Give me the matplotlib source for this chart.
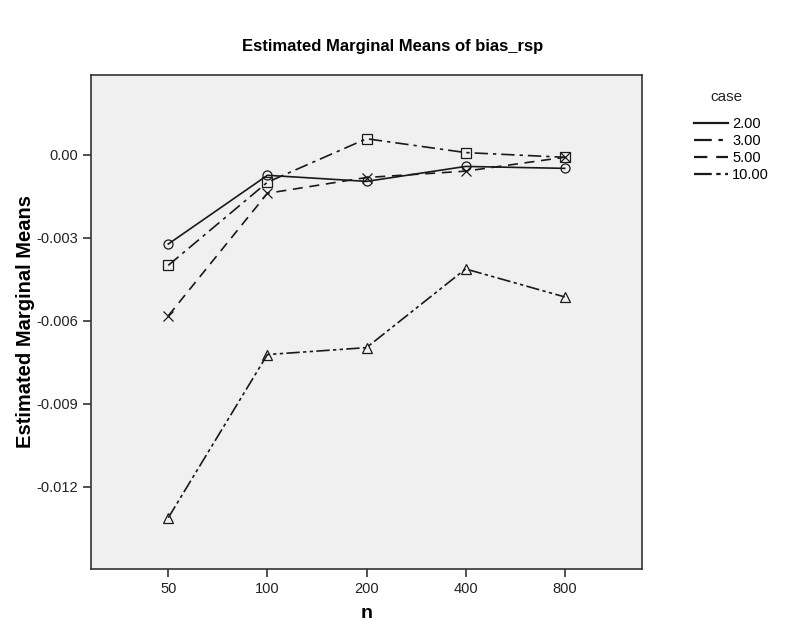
import numpy as np
import matplotlib
matplotlib.use("Agg")
import matplotlib.pyplot as plt

plt.rcParams['font.family'] = ['Liberation Sans', 'DejaVu Sans']

# estimated marginal means of bias_rsp by n and case
n_labels = ["50", "100", "200", "400", "800"]
case_labels = ["2.00", "3.00", "5.00", "10.00"]
case_2 = [-0.00323, -0.00075, -0.00097, -0.00043, -0.00050]
case_3 = [-0.00400, -0.00100, 0.00057, 0.00007, -0.00010]
case_5 = [-0.00582, -0.00140, -0.00083, -0.00060, -0.00010]
case_10 = [-0.01311, -0.00722, -0.00697, -0.00413, -0.00514]

series = [case_2, case_3, case_5, case_10]
styles = ['-', (0, (8, 3, 2, 3)), (0, (6, 4)), (0, (8, 2, 2, 2, 2, 2))]
markers = ['o', 's', 'x', '^']

fig = plt.figure(figsize=(7.85, 6.27), dpi=100)
ax = fig.add_axes([91 / 785, 1 - 569 / 627, 551 / 785, 494 / 627])
ax.set_facecolor('#f0f0f0')

x = np.arange(len(n_labels))
handles = []
for vals, ls, mk, lab in zip(series, styles, markers, case_labels):
    ax.plot(x, vals, color='#1a1a1a', linestyle=ls, linewidth=1.2,
            marker=mk, markersize=6.5, markerfacecolor='none',
            markeredgecolor='#1a1a1a', markeredgewidth=0.9)
    h, = ax.plot([], [], color='#1a1a1a', linestyle=ls, linewidth=1.6, label=lab)
    handles.append(h)

ax.set_xlim(-0.78, 4.78)
ax.set_ylim(-0.01496, 0.00287)
ax.set_xticks(x)
ax.set_xticklabels(n_labels)
ax.set_yticks([0.0, -0.003, -0.006, -0.009, -0.012])
ax.set_yticklabels(["0.00", "-0.003", "-0.006", "-0.009", "-0.012"])
ax.tick_params(direction='out', length=6, width=1.2, color='#333333',
               labelsize=10.5, labelcolor='#222222')
for sp in ax.spines.values():
    sp.set_color('#333333')
    sp.set_linewidth(1.2)

ax.set_xlabel("n", fontsize=14, fontweight='bold', labelpad=6)
ax.set_ylabel("Estimated Marginal Means", fontsize=14.5, fontweight='bold')
ax.yaxis.set_label_coords(-56 / 551, 0.5)
fig.text(393 / 785, 1 - 47 / 627, "Estimated Marginal Means of bias_rsp",
         ha='center', va='center', fontsize=12, fontweight='bold')

fig.text(726 / 785, 1 - 97 / 627, "case", ha='center', va='center',
         fontsize=11, color='#222222')
leg = fig.legend(handles=handles, loc='upper left',
                 bbox_to_anchor=(687 / 785, 1 - 110 / 627), frameon=False,
                 fontsize=10.5, handlelength=2.3, handletextpad=0.3,
                 labelspacing=0.2, borderpad=0)

fig.savefig("out.png", dpi=100)
